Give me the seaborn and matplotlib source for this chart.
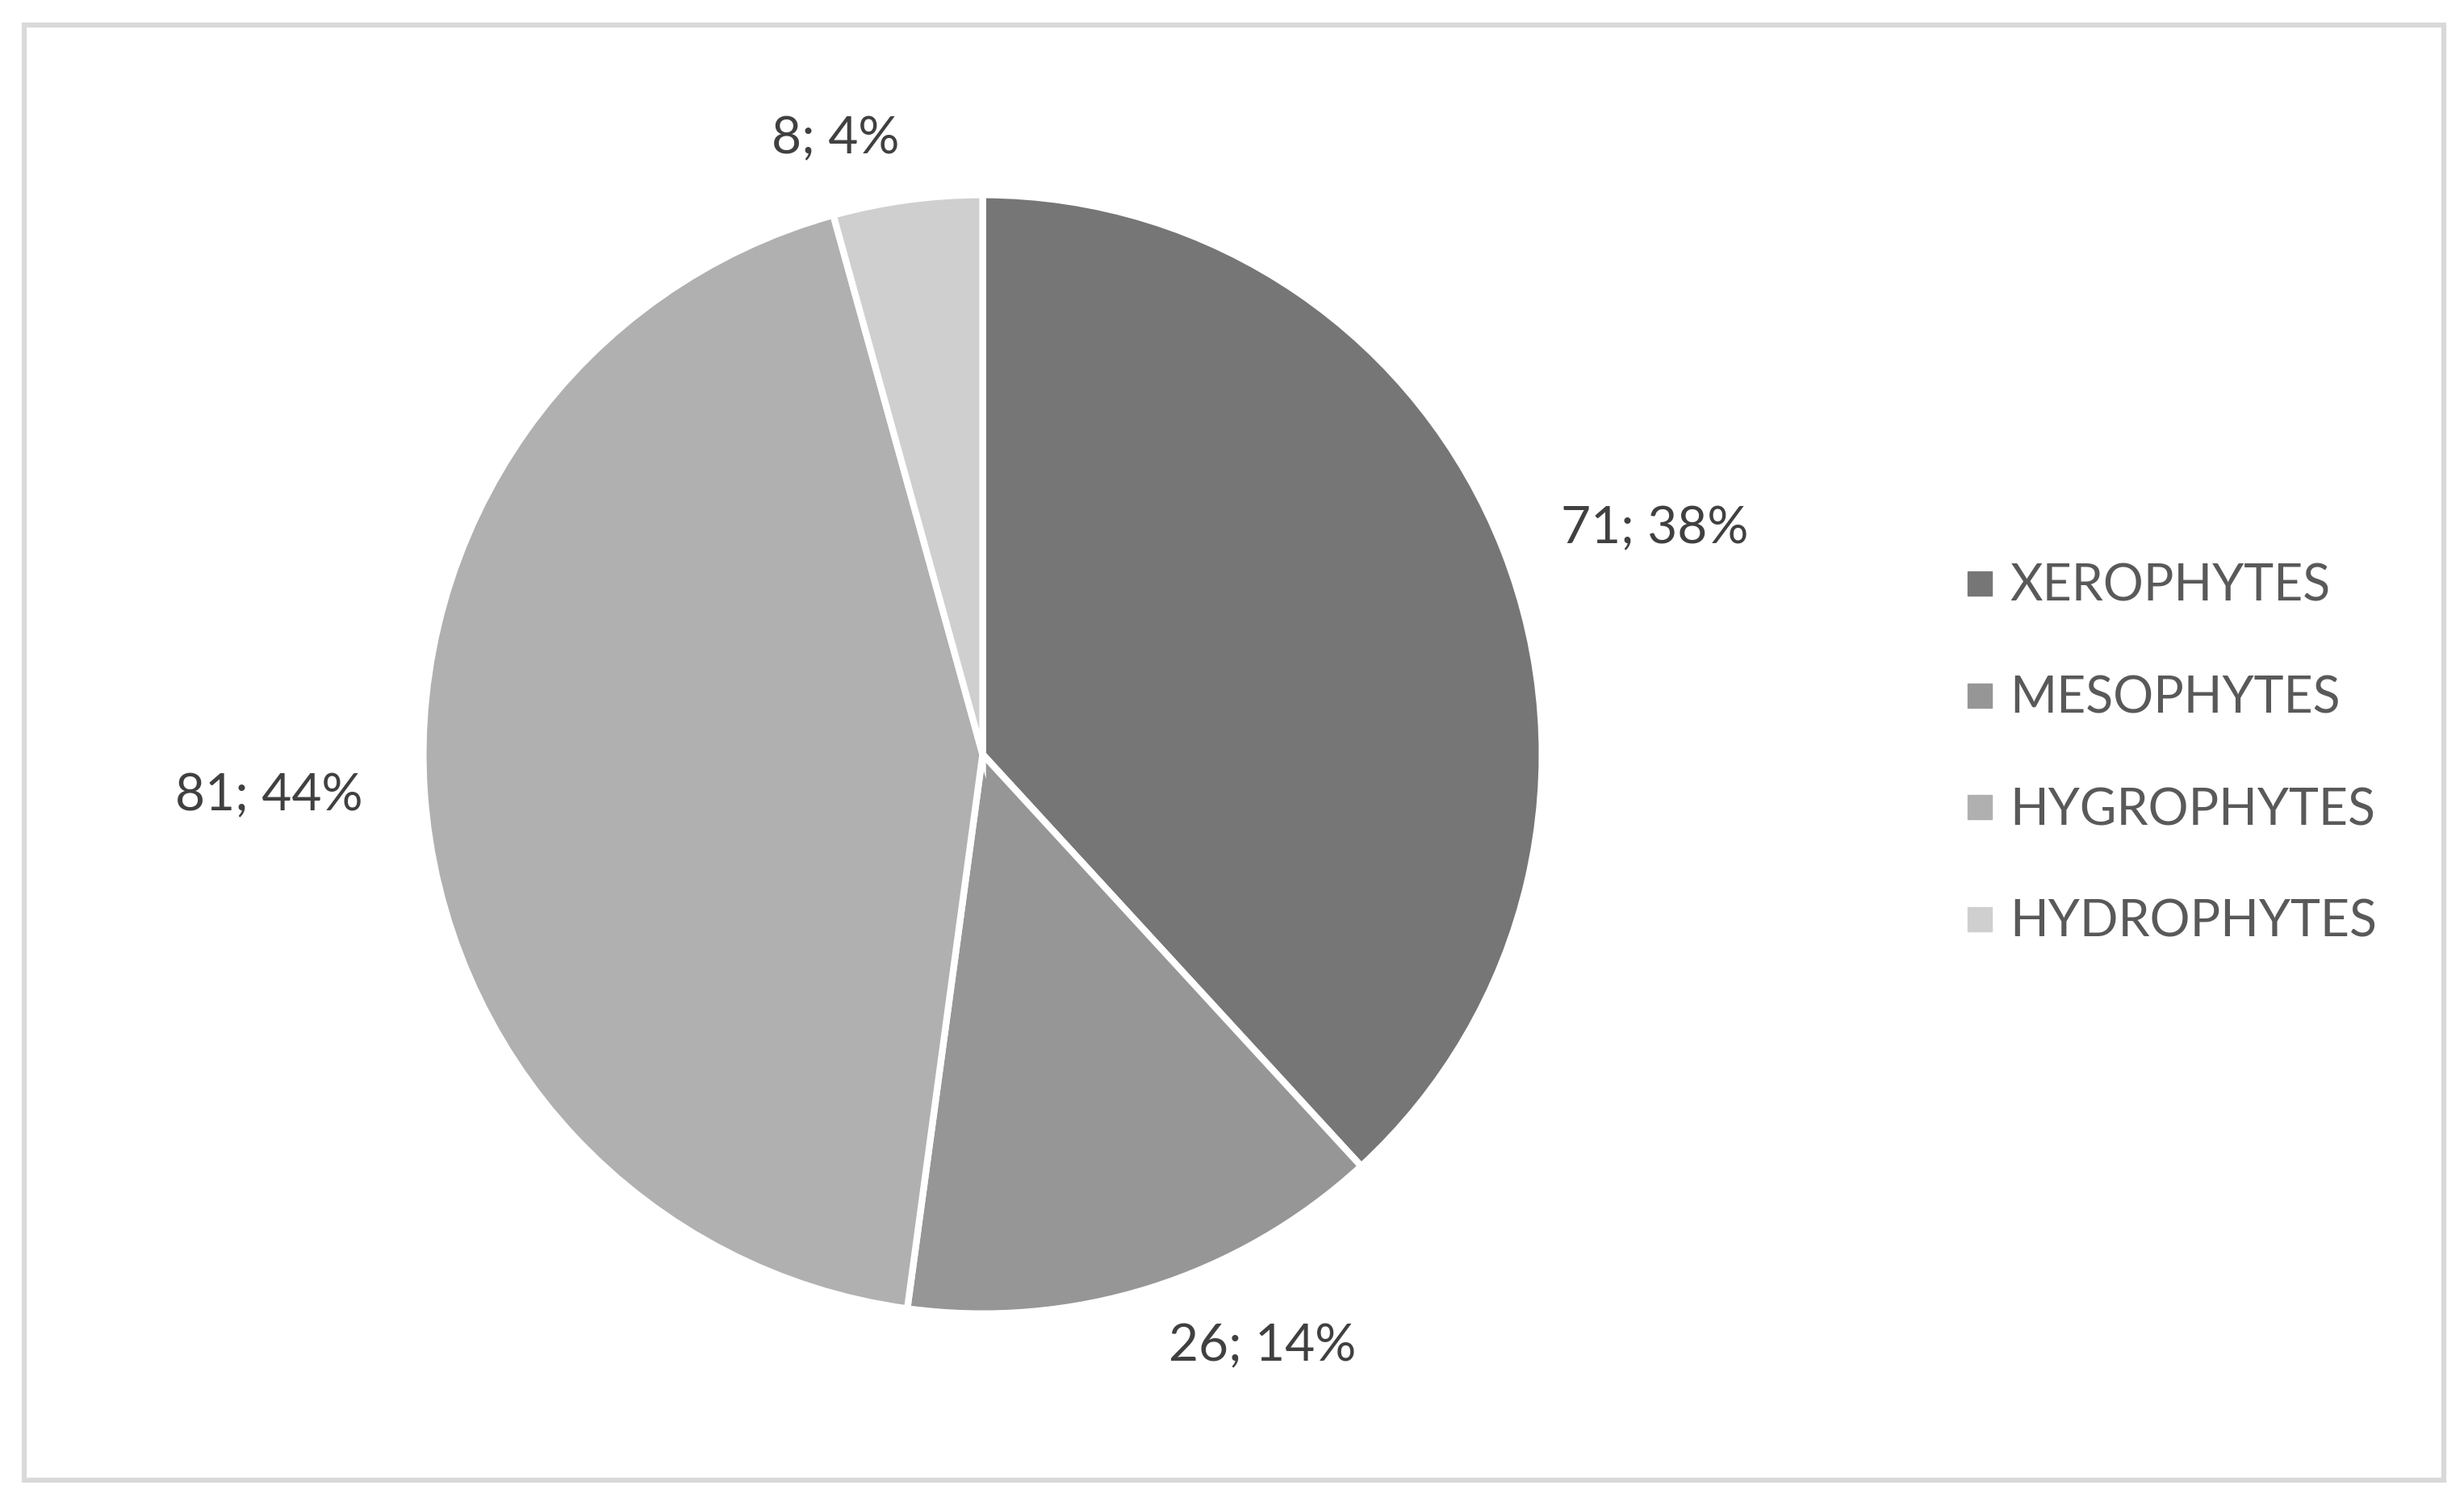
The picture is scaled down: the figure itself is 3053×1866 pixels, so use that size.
import numpy as np
import matplotlib
matplotlib.use("Agg")
import matplotlib.pyplot as plt
from matplotlib.lines import Line2D
from matplotlib.patches import Rectangle
import seaborn as sns

# data
groups = ["XEROPHYTES", "MESOPHYTES", "HYGROPHYTES", "HYDROPHYTES"]
counts = [71, 26, 81, 8]
colors = ["#767676", "#969696", "#b0b0b0", "#cfcfcf"]

sns.set_theme(style="white")
plt.rcParams["font.family"] = ["Lato", "DejaVu Sans"]

total = sum(counts)
labels = [f"{c}; {round(c / total * 100)}%" for c in counts]

fig = plt.figure(figsize=(30.53, 18.66), dpi=100)
ax = fig.add_axes([0.115, 0.0348, 0.5676, 0.9287])

wedges, texts = ax.pie(counts, labels=labels, colors=colors, startangle=90,
                       counterclock=False, labeldistance=1.11,
                       wedgeprops=dict(edgecolor="white", linewidth=6),
                       textprops=dict(fontsize=46, color="#404040"))
ax.set_xlim(-1.25, 1.25)
ax.set_ylim(-1.25, 1.25)
ax.set_aspect("equal")
ax.axis("off")

# legend on the right
handles = [Line2D([], [], marker="s", linestyle="none", markersize=21,
                  markerfacecolor=col, markeredgecolor=col) for col in colors]
leg = fig.legend(handles, groups, loc="center left", bbox_to_anchor=(0.788, 0.499),
                 frameon=False, fontsize=45, labelspacing=1.29,
                 handlelength=0.5, handletextpad=0.35, borderpad=0)
for t in leg.get_texts():
    t.set_color("#595959")

# outer frame
fig.patches.append(Rectangle((0.0098, 0.0171), 0.9820, 0.9663, transform=fig.transFigure,
                             fill=False, edgecolor="#d9d9d9", linewidth=4.5))

fig.savefig("out.png", dpi=100, facecolor="white")
plt.close()
